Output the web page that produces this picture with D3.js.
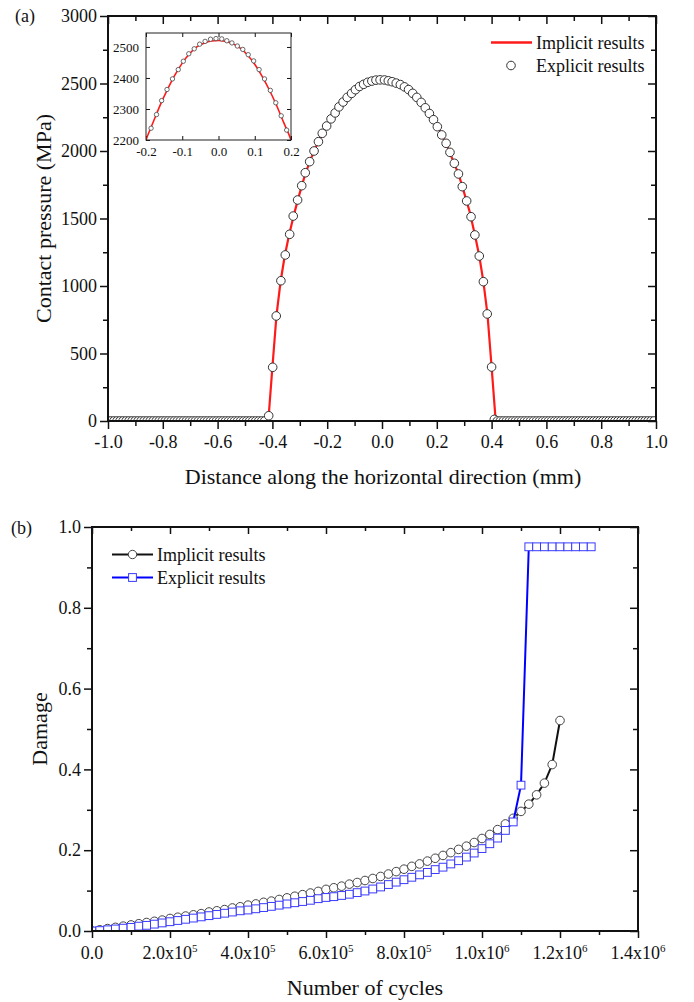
<!DOCTYPE html>
<html>
<head>
<meta charset="utf-8">
<script src="https://cdn.jsdelivr.net/npm/d3@7"></script>
<style>
  body { margin: 0; background: #fff; }
  svg text { font-family: "Liberation Serif", "Times New Roman", serif; fill: #111; }
</style>
</head>
<body>
<script>
// ---------- (a) contact pressure data ----------
var distTicks = [-1.0, -0.8, -0.6, -0.4, -0.2, 0.0, 0.2, 0.4, 0.6, 0.8, 1.0];
var distMinor = [-0.9, -0.7, -0.5, -0.3, -0.1, 0.1, 0.3, 0.5, 0.7, 0.9];
var pressTicks = [0, 500, 1000, 1500, 2000, 2500, 3000];
var pressMinor = [250, 750, 1250, 1750, 2250, 2750];
var insetXTicks = [-0.2, -0.1, 0.0, 0.1, 0.2];
var insetYTicks = [2200, 2300, 2400, 2500];

// explicit nodes lying on zero pressure (outside contact)
var zeroLeftX = [-1.000, -0.989, -0.978, -0.967, -0.956, -0.945, -0.934, -0.923, -0.912, -0.901,
  -0.890, -0.879, -0.868, -0.857, -0.846, -0.835, -0.824, -0.813, -0.802, -0.791, -0.780, -0.769,
  -0.758, -0.747, -0.736, -0.725, -0.714, -0.703, -0.692, -0.681, -0.670, -0.659, -0.648, -0.637,
  -0.626, -0.615, -0.604, -0.593, -0.582, -0.571, -0.560, -0.549, -0.538, -0.527, -0.516, -0.505,
  -0.494, -0.483, -0.472, -0.461, -0.450, -0.439, -0.428];
var zeroRightX = [0.421, 0.432, 0.443, 0.454, 0.465, 0.476, 0.487, 0.498, 0.509, 0.520, 0.531,
  0.542, 0.553, 0.564, 0.575, 0.586, 0.597, 0.608, 0.619, 0.630, 0.641, 0.652, 0.663, 0.674, 0.685,
  0.696, 0.707, 0.718, 0.729, 0.740, 0.751, 0.762, 0.773, 0.784, 0.795, 0.806, 0.817, 0.828, 0.839,
  0.850, 0.861, 0.872, 0.883, 0.894, 0.905, 0.916, 0.927, 0.938, 0.949, 0.960, 0.971, 0.982, 0.993];

// explicit nodes inside contact
var explicitX = [-0.4135, -0.399, -0.386, -0.369, -0.353, -0.337, -0.324, -0.308, -0.293, -0.280,
  -0.264, -0.248, -0.232, -0.218, -0.202, -0.186, -0.171, -0.157, -0.142, -0.127, -0.111, -0.097,
  -0.082, -0.067, -0.052, -0.037, -0.022, -0.007, 0.009, 0.023, 0.037, 0.052, 0.067, 0.082, 0.097,
  0.112, 0.127, 0.143, 0.158, 0.173, 0.188, 0.202, 0.218, 0.234, 0.248, 0.264, 0.279, 0.293, 0.309,
  0.325, 0.339, 0.355, 0.370, 0.384, 0.400, 0.410];
var explicitP = [39, 398, 778, 1039, 1230, 1383, 1518, 1637, 1743, 1839,
  1921, 2000, 2069, 2131, 2185, 2238, 2282, 2327, 2363, 2397, 2427, 2454,
  2478, 2494, 2509, 2518, 2525, 2527, 2526, 2520, 2513, 2503, 2492, 2475, 2455,
  2427, 2397, 2360, 2320, 2278, 2232, 2180, 2119, 2057, 1990, 1909, 1830, 1736, 1630,
  1513, 1378, 1222, 1032, 793, 400, 12];

// implicit solution
var implicitX = [-1.0, -0.415, -0.40, -0.385, -0.37, -0.355, -0.34, -0.32, -0.30, -0.28, -0.26,
  -0.24, -0.22, -0.20, -0.18, -0.16, -0.14, -0.12, -0.10, -0.08, -0.06, -0.04, -0.02, 0.0, 0.02,
  0.04, 0.06, 0.08, 0.10, 0.12, 0.14, 0.16, 0.18, 0.20, 0.22, 0.24, 0.26, 0.28, 0.30, 0.32, 0.34,
  0.355, 0.37, 0.385, 0.40, 0.415, 1.0];
var implicitP = [0, 0, 398, 785, 1035, 1222, 1370, 1540, 1690, 1830, 1940,
  2035, 2122, 2200, 2258, 2315, 2365, 2410, 2448, 2478, 2500, 2512, 2519, 2521, 2518,
  2510, 2496, 2474, 2444, 2406, 2362, 2312, 2256, 2200, 2115, 2025, 1925, 1825, 1690, 1550, 1370,
  1222, 1032, 790, 400, 0, 0];

// ---------- (b) damage data (cycles in thousands) ----------
var cycleTicks = [0, 200000, 400000, 600000, 800000, 1000000, 1200000, 1400000];
var cycleMinor = [100000, 300000, 500000, 700000, 900000, 1100000, 1300000];
var cycleTickLabels = [["0.0", ""], ["2.0x10", "5"], ["4.0x10", "5"], ["6.0x10", "5"],
  ["8.0x10", "5"], ["1.0x10", "6"], ["1.2x10", "6"], ["1.4x10", "6"]];
var damageTicks = [0, 0.2, 0.4, 0.6, 0.8, 1.0];
var damageMinor = [0.1, 0.3, 0.5, 0.7, 0.9];

var implicitCyclesK = [0, 20, 40, 60, 80, 100, 120, 140, 160, 180, 200, 220, 240, 260, 280, 300,
  320, 340, 360, 380, 400, 420, 440, 460, 480, 500, 520, 540, 560, 580, 600, 620, 640, 660, 680,
  700, 720, 740, 760, 780, 800, 820, 840, 860, 880, 900, 920, 940, 960, 980, 1000, 1020, 1040,
  1060, 1080, 1100, 1120, 1140, 1160, 1180, 1200];
var implicitDamage = [0.000, 0.003, 0.006, 0.009, 0.012, 0.015, 0.018, 0.021, 0.024, 0.027, 0.031,
  0.034, 0.037, 0.040, 0.043, 0.047, 0.050, 0.053, 0.057, 0.060, 0.064, 0.067, 0.071, 0.074, 0.078,
  0.082, 0.086, 0.090, 0.094, 0.098, 0.103, 0.107, 0.111, 0.116, 0.120, 0.125, 0.130, 0.135, 0.141,
  0.147, 0.153, 0.160, 0.166, 0.173, 0.180, 0.187, 0.194, 0.202, 0.210, 0.219, 0.229, 0.239, 0.251,
  0.265, 0.279, 0.296, 0.314, 0.337, 0.366, 0.412, 0.521];

var explicitCyclesK = [0, 20, 40, 60, 80, 100, 120, 140, 160, 180, 200, 220, 240, 260, 280, 300,
  320, 340, 360, 380, 400, 420, 440, 460, 480, 500, 520, 540, 560, 580, 600, 620, 640, 660, 680,
  700, 720, 740, 760, 780, 800, 820, 840, 860, 880, 900, 920, 940, 960, 980, 1000, 1020, 1040,
  1060, 1080, 1100, 1120, 1140, 1160, 1180, 1200, 1220, 1240, 1260, 1280];
var explicitDamage = [0.000, 0.001, 0.003, 0.005, 0.007, 0.009, 0.012, 0.014, 0.017, 0.020, 0.023,
  0.026, 0.029, 0.032, 0.035, 0.038, 0.041, 0.044, 0.047, 0.050, 0.052, 0.055, 0.058, 0.061, 0.064,
  0.067, 0.070, 0.073, 0.076, 0.080, 0.083, 0.085, 0.088, 0.091, 0.095, 0.099, 0.104, 0.109, 0.115,
  0.121, 0.127, 0.133, 0.139, 0.145, 0.152, 0.158, 0.166, 0.174, 0.183, 0.193, 0.204, 0.216, 0.230,
  0.249, 0.270, 0.361, 0.951, 0.951, 0.951, 0.951, 0.951, 0.951, 0.951, 0.951, 0.951];

var serif = '"Liberation Serif", "Times New Roman", serif';

var svg = d3.select("body").append("svg")
  .attr("width", 694)
  .attr("height", 1002);
var defs = svg.append("defs");

// one set of ticks along a side; the frame is drawn separately
function addAxis(g, axisFn, scale, values, size, transform, fmt, fontSize, pad) {
  var ax = axisFn(scale).tickValues(values).tickSize(size).tickSizeOuter(0)
    .tickPadding(pad || 3)
    .tickFormat(fmt || "");
  var sel = g.append("g").attr("transform", transform).call(ax);
  sel.select(".domain").remove();
  sel.selectAll("line").attr("stroke", "#111").attr("stroke-width", 1.5);
  sel.selectAll("text").attr("font-family", serif).attr("font-size", fontSize || 18).attr("fill", "#111");
  return sel;
}

function addClip(id, x0, y0, x1, y1) {
  defs.append("clipPath").attr("id", id).append("rect")
    .attr("x", x0).attr("y", y0).attr("width", x1 - x0).attr("height", y1 - y0);
}

var fmt1 = function(d) { return d.toFixed(1); };

// =================== panel (a) ===================
var xA = d3.scaleLinear().domain([-1, 1]).range([108, 656]);
var yA = d3.scaleLinear().domain([0, 3000]).range([421, 16]);
var ga = svg.append("g");
addClip("clipA", 108, 16, 656, 421);

addAxis(ga, d3.axisBottom, xA, distMinor, 5, "translate(0,421)");
addAxis(ga, d3.axisBottom, xA, distTicks, 8, "translate(0,421)", fmt1, 18, 6);
addAxis(ga, d3.axisTop, xA, distMinor, -5, "translate(0,16)");
addAxis(ga, d3.axisTop, xA, distTicks, -8, "translate(0,16)");
addAxis(ga, d3.axisLeft, yA, pressMinor, 5, "translate(108,0)");
addAxis(ga, d3.axisLeft, yA, pressTicks, 8, "translate(108,0)", d3.format("d"), 18, 3);
addAxis(ga, d3.axisRight, yA, pressMinor, -5, "translate(656,0)");
addAxis(ga, d3.axisRight, yA, pressTicks, -8, "translate(656,0)");

var explicitPts = zeroLeftX.map(function(x) { return [x, 0]; })
  .concat(explicitX.map(function(x, i) { return [x, explicitP[i]]; }))
  .concat(zeroRightX.map(function(x) { return [x, 0]; }));
var implicitPts = implicitX.map(function(x, i) { return [x, implicitP[i]]; });

var plotA = ga.append("g").attr("clip-path", "url(#clipA)");
plotA.append("path")
  .datum(implicitPts)
  .attr("fill", "none")
  .attr("stroke", "#ff1a1a")
  .attr("stroke-width", 2.2)
  .attr("d", d3.line().x(function(d) { return xA(d[0]); }).y(function(d) { return yA(d[1]); }));
plotA.selectAll("circle")
  .data(explicitPts)
  .enter().append("circle")
  .attr("cx", function(d) { return xA(d[0]); })
  .attr("cy", function(d) { return yA(d[1]); })
  .attr("r", 4.3)
  .attr("fill", "#fff")
  .attr("stroke", "#333")
  .attr("stroke-width", 1);

ga.append("rect")
  .attr("x", 108).attr("y", 16).attr("width", 548).attr("height", 405)
  .attr("fill", "none").attr("stroke", "#111").attr("stroke-width", 2);

// inset
var xI = d3.scaleLinear().domain([-0.2, 0.2]).range([146, 291]);
var yI = d3.scaleLinear().domain([2200, 2545]).range([140, 33]);
var gi = svg.append("g");
addClip("clipI", 146, 33, 291, 140);
gi.append("rect")
  .attr("x", 146).attr("y", 33).attr("width", 145).attr("height", 107)
  .attr("fill", "#fff");
addAxis(gi, d3.axisBottom, xI, insetXTicks, -4, "translate(0,140)", fmt1, 13, 7);
addAxis(gi, d3.axisTop, xI, insetXTicks, -4, "translate(0,33)");
addAxis(gi, d3.axisLeft, yI, insetYTicks, -4, "translate(146,0)", d3.format("d"), 13, 7);
addAxis(gi, d3.axisRight, yI, insetYTicks, -4, "translate(291,0)");
gi.selectAll("line").attr("stroke-width", 1);

var plotI = gi.append("g").attr("clip-path", "url(#clipI)");
plotI.append("path")
  .datum(implicitPts)
  .attr("fill", "none")
  .attr("stroke", "#ff1a1a")
  .attr("stroke-width", 1.6)
  .attr("d", d3.line().curve(d3.curveMonotoneX)
    .x(function(d) { return xI(d[0]); }).y(function(d) { return yI(d[1]); }));
plotI.selectAll("circle")
  .data(explicitPts.filter(function(d) { return d[0] >= -0.2 && d[0] <= 0.2; }))
  .enter().append("circle")
  .attr("cx", function(d) { return xI(d[0]); })
  .attr("cy", function(d) { return yI(d[1]); })
  .attr("r", 2.2)
  .attr("fill", "#fff")
  .attr("stroke", "#444")
  .attr("stroke-width", 0.8);
gi.append("rect")
  .attr("x", 146).attr("y", 33).attr("width", 145).attr("height", 107)
  .attr("fill", "none").attr("stroke", "#222").attr("stroke-width", 1);

// legend (a)
ga.append("line").attr("x1", 491).attr("x2", 532).attr("y1", 42.5).attr("y2", 42.5)
  .attr("stroke", "#ff1a1a").attr("stroke-width", 2.4);
ga.append("text").attr("x", 536).attr("y", 49).attr("font-size", 18).text("Implicit results");
ga.append("circle").attr("cx", 511).attr("cy", 65.5).attr("r", 4.3)
  .attr("fill", "#fff").attr("stroke", "#333");
ga.append("text").attr("x", 536).attr("y", 72).attr("font-size", 18).text("Explicit results");

// titles (a)
ga.append("text").attr("x", 383).attr("y", 484).attr("text-anchor", "middle")
  .attr("font-size", 22).text("Distance along the horizontal direction (mm)");
ga.append("text").attr("transform", "translate(51,218.5) rotate(-90)").attr("text-anchor", "middle")
  .attr("font-size", 22).text("Contact pressure (MPa)");
ga.append("text").attr("x", 15).attr("y", 22).attr("font-size", 18).text("(a)");

// =================== panel (b) ===================
var xB = d3.scaleLinear().domain([0, 1400000]).range([92, 638]);
var yB = d3.scaleLinear().domain([0, 1]).range([931, 527]);
var gb = svg.append("g");
addClip("clipB", 92, 527, 638, 931);

addAxis(gb, d3.axisBottom, xB, cycleMinor, 4, "translate(0,931)");
addAxis(gb, d3.axisBottom, xB, cycleTicks, 7, "translate(0,931)");
addAxis(gb, d3.axisTop, xB, cycleMinor, -4, "translate(0,527)");
addAxis(gb, d3.axisTop, xB, cycleTicks, -7, "translate(0,527)");
addAxis(gb, d3.axisLeft, yB, damageMinor, 5, "translate(92,0)");
addAxis(gb, d3.axisLeft, yB, damageTicks, 8, "translate(92,0)", fmt1, 18, 3);
addAxis(gb, d3.axisRight, yB, damageMinor, -5, "translate(638,0)");
addAxis(gb, d3.axisRight, yB, damageTicks, -8, "translate(638,0)");

// x tick labels with superscript exponents
var xl = gb.append("g").selectAll("text")
  .data(cycleTicks)
  .enter().append("text")
  .attr("x", function(d) { return xB(d); })
  .attr("y", 959)
  .attr("text-anchor", "middle")
  .attr("font-size", 18);
xl.append("tspan").text(function(d, i) { return cycleTickLabels[i][0]; });
xl.append("tspan").attr("dy", -7).attr("font-size", 11)
  .text(function(d, i) { return cycleTickLabels[i][1]; });

var impB = implicitCyclesK.map(function(c, i) { return [c * 1000, implicitDamage[i]]; });
var expB = explicitCyclesK.map(function(c, i) { return [c * 1000, explicitDamage[i]]; });
var lineB = d3.line().x(function(d) { return xB(d[0]); }).y(function(d) { return yB(d[1]); });

var plotB = gb.append("g").attr("clip-path", "url(#clipB)");
plotB.append("path").datum(impB)
  .attr("fill", "none").attr("stroke", "#111").attr("stroke-width", 2).attr("d", lineB);
plotB.selectAll("circle").data(impB)
  .enter().append("circle")
  .attr("cx", function(d) { return xB(d[0]); })
  .attr("cy", function(d) { return yB(d[1]); })
  .attr("r", 4.3)
  .attr("fill", "#fff").attr("stroke", "#444").attr("stroke-width", 1);
plotB.append("path").datum(expB)
  .attr("fill", "none").attr("stroke", "#0000ff").attr("stroke-width", 2).attr("d", lineB);
plotB.selectAll("rect.sq").data(expB)
  .enter().append("rect").attr("class", "sq")
  .attr("x", function(d) { return xB(d[0]) - 3.9; })
  .attr("y", function(d) { return yB(d[1]) - 3.9; })
  .attr("width", 7.8).attr("height", 7.8)
  .attr("fill", "#fff").attr("stroke", "#3a3aff").attr("stroke-width", 1);

gb.append("rect")
  .attr("x", 92).attr("y", 527).attr("width", 546).attr("height", 404)
  .attr("fill", "none").attr("stroke", "#111").attr("stroke-width", 2);

// legend (b)
gb.append("line").attr("x1", 112).attr("x2", 153).attr("y1", 554.5).attr("y2", 554.5)
  .attr("stroke", "#111").attr("stroke-width", 2);
gb.append("circle").attr("cx", 132.5).attr("cy", 554.5).attr("r", 4.2)
  .attr("fill", "#fff").attr("stroke", "#444");
gb.append("text").attr("x", 157).attr("y", 561).attr("font-size", 18).text("Implicit results");
gb.append("line").attr("x1", 112).attr("x2", 153).attr("y1", 577.5).attr("y2", 577.5)
  .attr("stroke", "#0000ff").attr("stroke-width", 2);
gb.append("rect").attr("x", 128.6).attr("y", 573.6).attr("width", 7.8).attr("height", 7.8)
  .attr("fill", "#fff").attr("stroke", "#3a3aff");
gb.append("text").attr("x", 157).attr("y", 584).attr("font-size", 18).text("Explicit results");

// titles (b)
gb.append("text").attr("x", 365).attr("y", 995).attr("text-anchor", "middle")
  .attr("font-size", 22).text("Number of cycles");
gb.append("text").attr("transform", "translate(47,729) rotate(-90)").attr("text-anchor", "middle")
  .attr("font-size", 22).text("Damage");
gb.append("text").attr("x", 11).attr("y", 534).attr("font-size", 18).text("(b)");
</script>
</body>
</html>
